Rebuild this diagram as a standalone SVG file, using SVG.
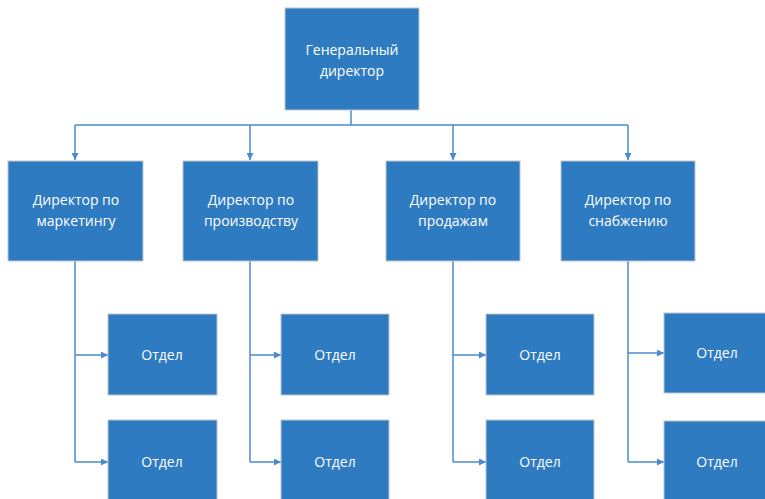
<svg xmlns="http://www.w3.org/2000/svg" width="765" height="499" viewBox="0 0 765 499">
<style>
.box{fill:#2E7BC1;stroke:#BFC5CC;stroke-width:1}
.t{fill:#FFFFFF;font-family:"Open Sans","Noto Sans",sans-serif;font-size:14px;text-anchor:middle}
.c{fill:none;stroke:#4A8AD0;stroke-width:1.5}
</style>
<defs>
<marker id="ah" viewBox="0 0 10 10" refX="10" refY="5" markerWidth="7" markerHeight="7" markerUnits="userSpaceOnUse" orient="auto">
<path d="M0,0 L10,5 L0,10 z" fill="#4A8AD0"/>
</marker>
</defs>
<rect width="765" height="499" fill="#FFFFFF"/>
<g id="connectors">
<path class="c" d="M351,110 V125"/>
<path class="c" d="M75,125 H628"/>
<path class="c" d="M75,125 V160" marker-end="url(#ah)"/>
<path class="c" d="M250,125 V160" marker-end="url(#ah)"/>
<path class="c" d="M453,125 V160" marker-end="url(#ah)"/>
<path class="c" d="M628,125 V160" marker-end="url(#ah)"/>
<path class="c" d="M75,261 V462"/>
<path class="c" d="M75,355 H108" marker-end="url(#ah)"/>
<path class="c" d="M75,462 H108" marker-end="url(#ah)"/>
<path class="c" d="M250,261 V462"/>
<path class="c" d="M250,355 H281" marker-end="url(#ah)"/>
<path class="c" d="M250,462 H281" marker-end="url(#ah)"/>
<path class="c" d="M453,261 V462"/>
<path class="c" d="M453,355 H486" marker-end="url(#ah)"/>
<path class="c" d="M453,462 H486" marker-end="url(#ah)"/>
<path class="c" d="M628,261 V462"/>
<path class="c" d="M628,353 H664" marker-end="url(#ah)"/>
<path class="c" d="M628,462 H664" marker-end="url(#ah)"/>
</g>
<g id="ceo"><rect class="box" x="285" y="8" width="134" height="102"/><text class="t" x="352" y="55">Генеральный</text><text class="t" x="352" y="76">директор</text></g>
<g id="dir-marketing"><rect class="box" x="8" y="161" width="135" height="100"/><text class="t" x="76" y="205">Директор по</text><text class="t" x="76" y="226">маркетингу</text></g>
<g id="dir-production"><rect class="box" x="183" y="161" width="135" height="100"/><text class="t" x="251" y="205">Директор по</text><text class="t" x="251" y="226">производству</text></g>
<g id="dir-sales"><rect class="box" x="386" y="161" width="134" height="100"/><text class="t" x="453" y="205">Директор по</text><text class="t" x="453" y="226">продажам</text></g>
<g id="dir-supply"><rect class="box" x="561" y="161" width="134" height="100"/><text class="t" x="628" y="205">Директор по</text><text class="t" x="628" y="226">снабжению</text></g>
<g id="dept-1a"><rect class="box" x="108" y="314" width="109" height="81"/><text class="t" x="162" y="360">Отдел</text></g>
<g id="dept-1b"><rect class="box" x="108" y="420" width="109" height="90"/><text class="t" x="162" y="467">Отдел</text></g>
<g id="dept-2a"><rect class="box" x="281" y="314" width="108" height="81"/><text class="t" x="335" y="360">Отдел</text></g>
<g id="dept-2b"><rect class="box" x="281" y="420" width="108" height="90"/><text class="t" x="335" y="467">Отдел</text></g>
<g id="dept-3a"><rect class="box" x="486" y="314" width="108" height="81"/><text class="t" x="540" y="360">Отдел</text></g>
<g id="dept-3b"><rect class="box" x="486" y="420" width="108" height="90"/><text class="t" x="540" y="467">Отдел</text></g>
<g id="dept-4a"><rect class="box" x="664" y="313" width="110" height="80"/><text class="t" x="717" y="358">Отдел</text></g>
<g id="dept-4b"><rect class="box" x="664" y="421" width="110" height="90"/><text class="t" x="717" y="467">Отдел</text></g>
</svg>
